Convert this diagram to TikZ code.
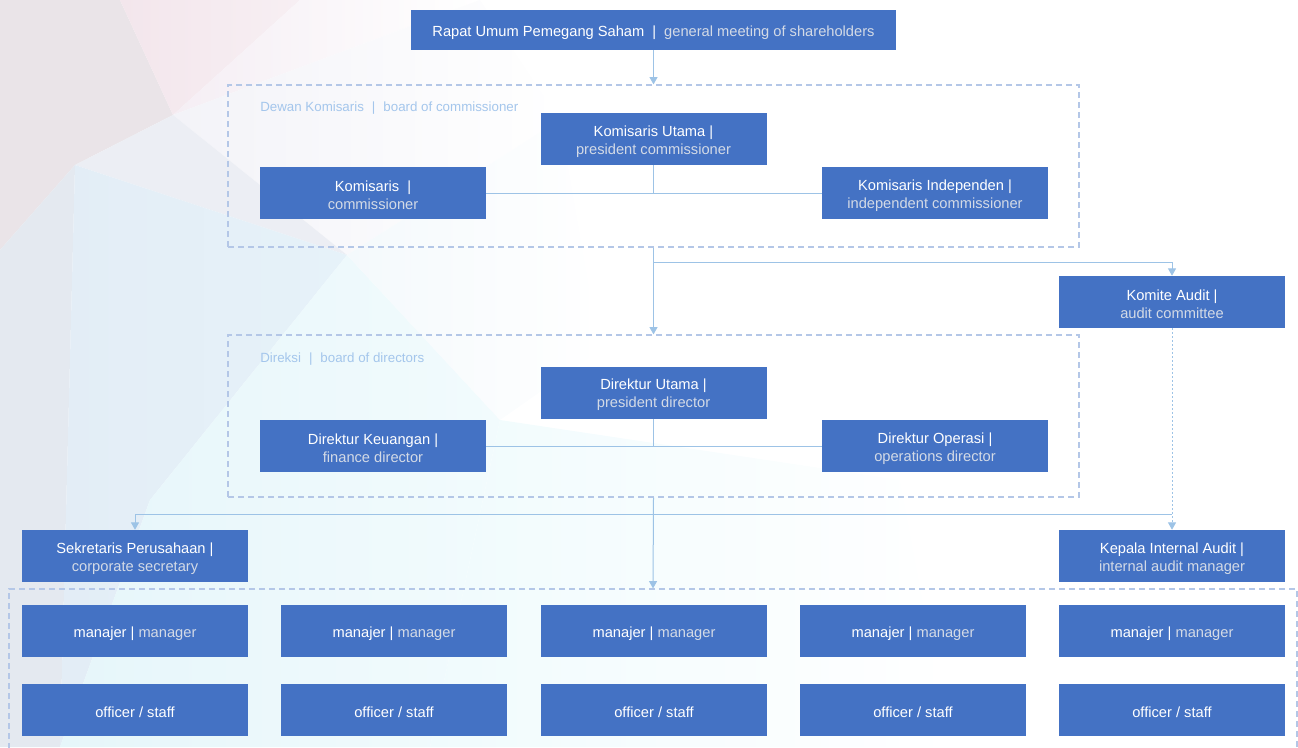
\documentclass[tikz,border=0pt]{standalone}
\usepackage{fontspec}
\setmainfont{Liberation Sans}
\usetikzlibrary{arrows.meta}
\definecolor{boxblue}{HTML}{4472C4}
\definecolor{engray}{HTML}{D3DAE6}
\definecolor{linkblue}{HTML}{9DC3E6}
\definecolor{dashblue}{HTML}{B4C7E7}
\definecolor{lblblue}{HTML}{A4C6EC}
\newcommand{\eng}[1]{{\color{engray}#1}}
\newcommand{\bx}[4][]{%
  \node[box,#1] (#2) at (#3) {};
  \node[txt] at ([yshift=-2pt]#2.center) {#4};}
\begin{document}
\begin{tikzpicture}[x=0.75pt,y=-0.75pt,
  box/.style={fill=boxblue, minimum width=169.5pt, minimum height=39pt, inner sep=0pt},
  txt/.style={text=white, inner sep=0pt, align=center, font=\fontsize{11}{13.5}\selectfont},
  grp/.style={draw=dashblue, dash pattern=on 4.5pt off 3pt, line width=0.9pt, inner sep=0pt},
  lbl/.style={text=lblblue, font=\fontsize{10}{12}\selectfont, anchor=base west, inner sep=0pt},
  link/.style={draw=linkblue, line width=0.75pt},
  arr/.style={link, -{Triangle[width=6pt,length=5.5pt]}},
]
\useasboundingbox (0,0) rectangle (1298,747);
% background polygons
\fill[color={rgb,255:red,234;green,228;blue,232}] (0,0) -- (120,0) -- (173,115) -- (75,165) -- (0,250) -- cycle;
\shade[left color={rgb,255:red,243;green,230;blue,236}, right color={rgb,255:red,247;green,239;blue,243}] (120,0) -- (300,0) -- (173,115) -- cycle;
\shade[left color={rgb,255:red,245;green,238;blue,244}, right color=white] (300,0) -- (480,0) -- (173,115) -- cycle;
\shade[left color={rgb,255:red,243;green,243;blue,248}, right color=white] (173,115) -- (480,0) -- (560,120) -- (347,255) -- cycle;
\fill[color={rgb,255:red,236;green,238;blue,244}] (75,165) -- (173,115) -- (347,255) -- cycle;
\fill[color={rgb,255:red,228;green,233;blue,240}] (0,250) -- (75,165) -- (60,747) -- (0,747) -- cycle;
\shade[left color={rgb,255:red,227;green,237;blue,246}, right color={rgb,255:red,230;green,242;blue,249}] (75,165) -- (347,255) -- (150,500) -- (60,747) -- cycle;
\shade[left color={rgb,255:red,230;green,246;blue,250}, right color={rgb,255:red,242;green,251;blue,253}] (347,255) -- (500,420) -- (430,747) -- (60,747) -- (150,500) -- cycle;
\shade[left color={rgb,255:red,244;green,249;blue,252}, right color=white] (347,255) -- (560,120) -- (600,350) -- (500,420) -- cycle;
\shade[left color={rgb,255:red,240;green,251;blue,253}, right color=white] (500,420) -- (900,480) -- (950,747) -- (430,747) -- cycle;

% groups
\node[grp, minimum width=638.25pt, minimum height=121.5pt] (bc) at (653.5,166) {};
\node[grp, minimum width=638.25pt, minimum height=121.5pt] (bd) at (653.5,416) {};
\node[grp, minimum width=966pt, minimum height=150pt] (bs) at (653,689) {};
\node[lbl] (bclbl) at (260,111) {Dewan Komisaris\hspace{6pt}|\hspace{6pt}board of commissioner};
\node[lbl] (bdlbl) at (260,362) {Direksi\hspace{6pt}|\hspace{6pt}board of directors};

% boxes
\bx[minimum width=363.75pt, minimum height=30pt]{rups}{653.5,30}{Rapat Umum Pemegang Saham\hspace{6pt}|\hspace{6pt}\eng{general meeting of shareholders}}
\bx{ku}{653.5,139}{Komisaris Utama |\\\eng{president commissioner}}
\bx{km}{373,193}{Komisaris\hspace{6pt}|\\\eng{commissioner}}
\bx{ki}{935,193}{Komisaris Independen |\\\eng{independent commissioner}}
\bx{ka}{1172,302}{Komite Audit |\\\eng{audit committee}}
\bx{du}{653.5,392.5}{Direktur Utama |\\\eng{president director}}
\bx{dk}{373,446}{Direktur Keuangan |\\\eng{finance director}}
\bx{do}{935,446}{Direktur Operasi |\\\eng{operations director}}
\bx{sp}{135,556}{Sekretaris Perusahaan |\\\eng{corporate secretary}}
\bx{kia}{1172,556}{Kepala Internal Audit |\\\eng{internal audit manager}}
\foreach \i/\x in {1/135,2/394,3/654,4/913,5/1172}{
  \bx{m\i}{\x,631}{manajer | \eng{manager}}
  \bx{o\i}{\x,710}{officer / staff}
}

% connectors
\draw[arr] (rups.south) -- (bc.north);
\draw[link] (ku.south) -- (ku.south |- km.east);
\draw[link] (km.east) -- (ki.west);
\draw[arr] (bc.south) -- (bd.north);
\coordinate (j1) at (653.5,262);
\draw[arr] (j1) -| (ka.north);
\draw[link] (du.south) -- (du.south |- dk.east);
\draw[link] (dk.east) -- (do.west);
\draw[arr] (bd.south) -- (bs.north);
\coordinate (j2) at (653.5,514);
\draw[arr] (j2) -| (sp.north);
\draw[link] (j2) -- (j2 -| kia.north);
\draw[arr, dash pattern=on 1.5pt off 1.5pt] (ka.south) -- (kia.north);
\end{tikzpicture}
\end{document}
